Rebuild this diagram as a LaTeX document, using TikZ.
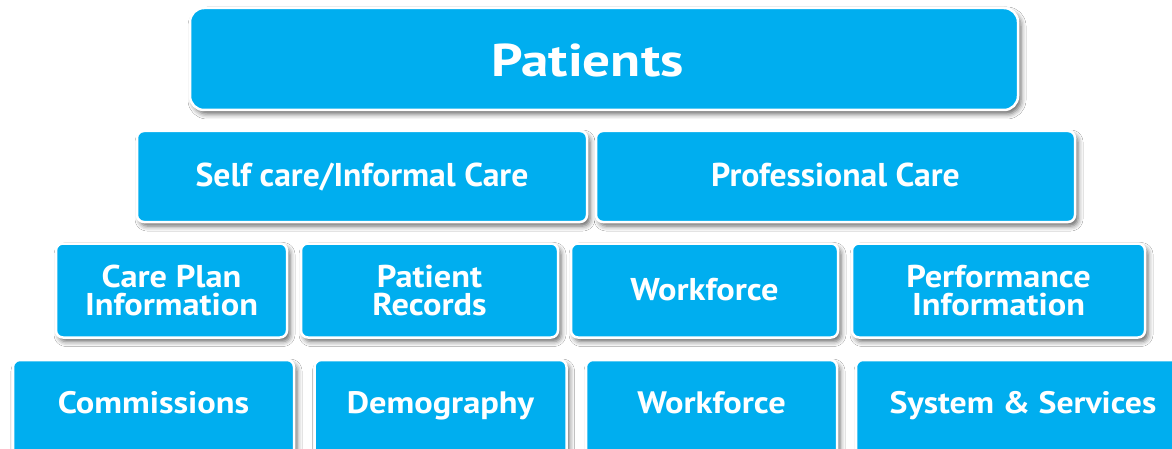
\documentclass[tikz,border=0pt]{standalone}
\usepackage{fontspec}
\setmainfont{PT Sans}
\newfontfamily\fontTop{PT Sans}[FakeStretch=1.2]
\newfontfamily\fontTwo{PT Sans}[FakeStretch=1.02]
\newfontfamily\fontThree{PT Sans}[FakeStretch=1.09]
\newfontfamily\fontFour{PT Sans}[FakeStretch=1.11]
\usetikzlibrary{shadows.blur}
\definecolor{boxblue}{HTML}{00AEEF}
\begin{document}
\begin{tikzpicture}[x=1pt,y=-1pt,
  box/.style={draw=white, line width=2.5pt, fill=boxblue, rounded corners=7pt,
    text=white, align=center, inner sep=0pt,
    blur shadow={shadow xshift=3pt, shadow yshift=-4pt, shadow blur radius=5pt, shadow opacity=60}},
  toprow/.style={box, rounded corners=14pt, font=\fontTop\bfseries\fontsize{46}{50}\selectfont, text height=36pt, text depth=0pt},
  secondrow/.style={box, font=\fontTwo\bfseries\fontsize{33}{30}\selectfont, text height=19pt, text depth=0pt, minimum height=91pt},
  thirdrow/.style={box, font=\fontThree\bfseries\fontsize{31.5}{28.5}\selectfont, minimum height=94pt},
  bottomrow/.style={box, font=\fontFour\bfseries\fontsize{31}{30}\selectfont, text height=22pt, text depth=26pt, minimum height=110pt}
]
\useasboundingbox (0,0) rectangle (1172,449);
\clip (0,0) rectangle (1172,449);
\fill[white] (0,0) rectangle (1172,449);

\node[toprow, minimum width=828pt, minimum height=102pt] (patients) at (604,59) {Patients\hspace*{33pt}};

\node[secondrow, minimum width=450pt] (selfcare) at (362,176.5) {Self care/Informal Care};
\node[secondrow, minimum width=479pt] (profcare) at (835.5,176.5) {Professional Care};

\node[thirdrow, minimum width=231pt] (careplan) at (171.5,290.5) {Care Plan\\Information};
\node[thirdrow, minimum width=257pt] (records) at (429.5,290.5) {Patient\\Records};
\node[thirdrow, text height=19pt, text depth=0pt, minimum width=267pt] (workforceA) at (704.5,290.5) {Workforce};
\node[thirdrow, minimum width=293pt] (performance) at (998.5,290.5) {Performance\\Information};

\node[bottomrow, minimum width=281pt] (commissions) at (153.5,415) {Commissions};
\node[bottomrow, minimum width=252pt] (demography) at (440.5,415) {Demography};
\node[bottomrow, minimum width=251pt] (workforceB) at (711.5,415) {Workforce};
\node[bottomrow, font=\fontThree\bfseries\fontsize{31}{30}\selectfont, minimum width=334pt] (system) at (1023,415) {System \& Services};
\end{tikzpicture}
\end{document}
